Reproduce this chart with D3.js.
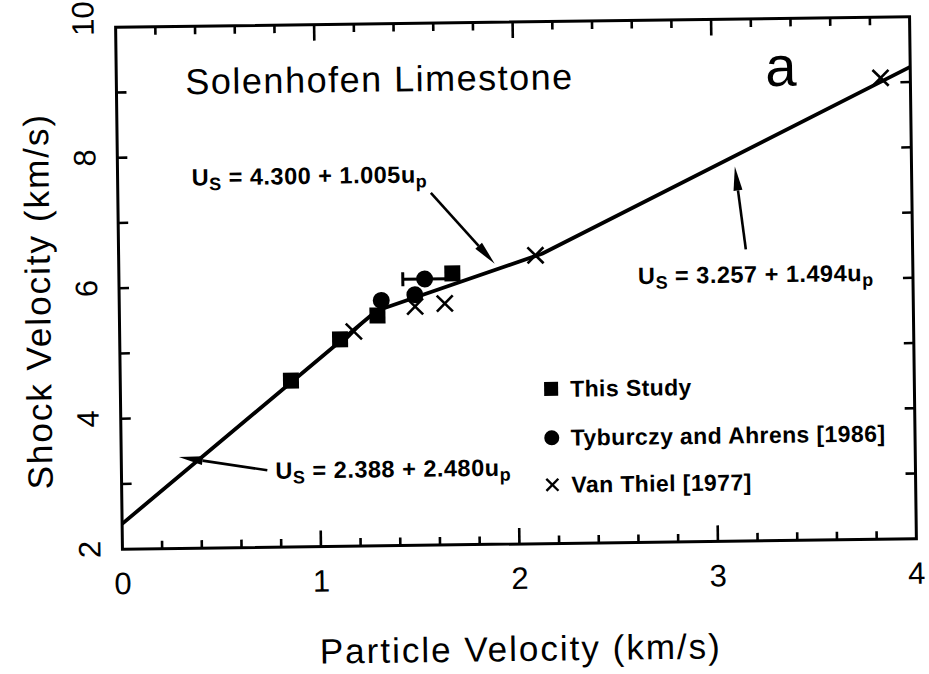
<!DOCTYPE html>
<html>
<head>
<meta charset="utf-8">
<script src="https://cdn.jsdelivr.net/npm/d3@7"></script>
<style>
  html, body { margin: 0; padding: 0; background: #fff; }
  svg { display: block; }
</style>
</head>
<body>
<svg id="chart" width="929" height="674"></svg>
<script>
// ---------------- data ----------------
const xDomain = [0, 4];
const yDomain = [2, 10];
const xTickLabels = [0, 1, 2, 3, 4];
const xMinorTicks = [0.2, 0.4, 0.6, 0.8, 1.2, 1.4, 1.6, 1.8, 2.2, 2.4, 2.6, 2.8, 3.2, 3.4, 3.6, 3.8];
const yTickLabels = [2, 4, 6, 8, 10];
const yMinorTicks = [3, 5, 7, 9];

// This Study (squares)
const thisStudyUp = [0.86, 1.11, 1.30, 1.68];
const thisStudyUs = [4.55, 5.17, 5.53, 6.16];
// Tyburczy and Ahrens [1986] (circles)
const tyburczyUp = [1.32, 1.49, 1.54];
const tyburczyUs = [5.76, 5.84, 6.08];
// horizontal error bar on one Tyburczy point
const errUp = [1.43, 1.66];
const errUs = 6.08;
// Van Thiel [1977] (crosses)
const vanThielUp = [1.18, 1.49, 1.64, 2.10, 3.85];
const vanThielUs = [5.29, 5.66, 5.70, 6.42, 9.07];

// Hugoniot fit segments: Us = a + b*up
const fitA = [2.388, 4.300, 3.257];
const fitB = [2.480, 1.005, 1.494];
const fitFrom = [0, 1.296, 2.133];
const fitTo = [1.296, 2.133, 4];

(function () {
// ---------------- layout ----------------
const svg = d3.select("#chart");
const pLeft = 119, pRight = 913, pTop = 22, pBottom = 544;
const x = d3.scaleLinear().domain(xDomain).range([pLeft, pRight]);
const y = d3.scaleLinear().domain(yDomain).range([pBottom, pTop]);

const root = svg.append("g").attr("transform", "rotate(-0.75, 516, 283)");
const FONT = "'Liberation Sans', Arial, Helvetica, sans-serif";

// frame
root.append("rect")
  .attr("x", pLeft).attr("y", pTop)
  .attr("width", pRight - pLeft).attr("height", pBottom - pTop)
  .attr("fill", "none").attr("stroke", "#000").attr("stroke-width", 3);

// ticks (inward, all four sides)
const majorLen = 16, minorLen = 8, yLen = 10;
const tk = root.append("g").attr("stroke", "#000").attr("stroke-width", 2.6);
function xTicks(vals, len) {
  vals.forEach(v => {
    tk.append("line").attr("x1", x(v)).attr("x2", x(v)).attr("y1", pBottom).attr("y2", pBottom - len);
    tk.append("line").attr("x1", x(v)).attr("x2", x(v)).attr("y1", pTop).attr("y2", pTop + len);
  });
}
function yTicks(vals, len) {
  vals.forEach(v => {
    tk.append("line").attr("y1", y(v)).attr("y2", y(v)).attr("x1", pLeft).attr("x2", pLeft + len);
    tk.append("line").attr("y1", y(v)).attr("y2", y(v)).attr("x1", pRight).attr("x2", pRight - len);
  });
}
xTicks(xTickLabels.slice(1, -1), majorLen);
xTicks(xMinorTicks, minorLen);
yTicks(yTickLabels.slice(1, -1), yLen);
yTicks(yMinorTicks, yLen);

// tick labels
root.append("g").selectAll("text").data(xTickLabels).join("text")
  .attr("x", d => x(d)).attr("y", 589)
  .attr("text-anchor", "middle")
  .attr("font-family", FONT).attr("font-size", 31)
  .text(d => d);
root.append("g").selectAll("text").data(yTickLabels).join("text")
  .attr("transform", d => `translate(97, ${y(d) - (d === 10 ? 9 : 0)}) rotate(-90)`)
  .attr("text-anchor", "middle")
  .attr("font-family", FONT).attr("font-size", 31)
  .text(d => d);

// axis titles
root.append("text")
  .attr("x", (pLeft + pRight) / 2).attr("y", 661)
  .attr("text-anchor", "middle")
  .attr("font-family", FONT).attr("font-size", 35).attr("letter-spacing", 2)
  .text("Particle Velocity (km/s)");
root.append("text")
  .attr("transform", `translate(50, ${(pTop + pBottom) / 2 + 12}) rotate(-90)`)
  .attr("text-anchor", "middle")
  .attr("font-family", FONT).attr("font-size", 35).attr("letter-spacing", 2)
  .text("Shock Velocity (km/s)");

// fit line
const fitPts = [];
fitA.forEach((a, i) => {
  fitPts.push([fitFrom[i], a + fitB[i] * fitFrom[i]]);
  fitPts.push([fitTo[i], a + fitB[i] * fitTo[i]]);
});
root.append("path")
  .attr("d", d3.line().x(d => x(d[0])).y(d => y(d[1]))(fitPts))
  .attr("fill", "none").attr("stroke", "#000").attr("stroke-width", 3.8)
  .attr("stroke-linejoin", "round");

// error bar
root.append("line")
  .attr("x1", x(errUp[0])).attr("x2", x(errUp[1]))
  .attr("y1", y(errUs)).attr("y2", y(errUs))
  .attr("stroke", "#000").attr("stroke-width", 3);
root.append("line")
  .attr("x1", x(errUp[0])).attr("x2", x(errUp[0]))
  .attr("y1", y(errUs) - 7).attr("y2", y(errUs) + 7)
  .attr("stroke", "#000").attr("stroke-width", 3);

// markers
const sq = 16, cr = 8.5, xs = 8;
root.append("g").selectAll("rect").data(thisStudyUp).join("rect")
  .attr("x", (d, i) => x(d) - sq / 2).attr("y", (d, i) => y(thisStudyUs[i]) - sq / 2)
  .attr("width", sq).attr("height", sq).attr("fill", "#000");
root.append("g").selectAll("circle").data(tyburczyUp).join("circle")
  .attr("cx", d => x(d)).attr("cy", (d, i) => y(tyburczyUs[i]))
  .attr("r", cr).attr("fill", "#000");
const xg = root.append("g").attr("stroke", "#000").attr("stroke-width", 2.6);
vanThielUp.forEach((d, i) => {
  const cx = x(d), cy = y(vanThielUs[i]);
  xg.append("line").attr("x1", cx - xs).attr("y1", cy - xs).attr("x2", cx + xs).attr("y2", cy + xs);
  xg.append("line").attr("x1", cx - xs).attr("y1", cy + xs).attr("x2", cx + xs).attr("y2", cy - xs);
});

// text annotations
root.append("text")
  .attr("x", x(0.348)).attr("y", y(8.96))
  .attr("font-family", FONT).attr("font-size", 36).attr("letter-spacing", 1.5)
  .text("Solenhofen Limestone");
root.append("text")
  .attr("x", x(3.27)).attr("y", y(8.97))
  .attr("font-family", FONT).attr("font-size", 56)
  .text("a");

// equations
const eqText = ["4.300 + 1.005", "3.257 + 1.494", "2.388 + 2.480"];
const eqUp = [0.373, 2.615, 0.776];
const eqUs = [7.56, 5.96, 3.05];
eqText.forEach((t, i) => {
  const txt = root.append("text")
    .attr("x", x(eqUp[i])).attr("y", y(eqUs[i]))
    .attr("font-family", FONT).attr("font-size", 23.5).attr("font-weight", "bold")
    .attr("letter-spacing", 0.5);
  txt.append("tspan").text("U");
  txt.append("tspan").attr("font-size", 18).attr("dy", 5).text("S");
  txt.append("tspan").attr("dy", -5).text(" = " + t + "u");
  txt.append("tspan").attr("font-size", 18).attr("dy", 5).text("p");
});

// arrows [tailUp, tailUs] -> [tipUp, tipUs]
const arrowTail = [[1.577, 7.40], [3.16, 6.47], [0.735, 3.18]];
const arrowTip = [[1.894, 6.30], [3.11, 7.74], [0.29, 3.40]];
const ag = root.append("g");
arrowTail.forEach((t, i) => {
  const x0 = x(t[0]), y0 = y(t[1]);
  const x1 = x(arrowTip[i][0]), y1 = y(arrowTip[i][1]);
  const dx = x1 - x0, dy = y1 - y0, L = Math.hypot(dx, dy);
  const ux = dx / L, uy = dy / L;
  const hl = 24, hw = 4.5;
  const bx = x1 - ux * hl, by = y1 - uy * hl;
  ag.append("line").attr("x1", x0).attr("y1", y0).attr("x2", bx).attr("y2", by)
    .attr("stroke", "#000").attr("stroke-width", 2.6);
  ag.append("path")
    .attr("d", `M${x1},${y1}L${bx - uy * hw},${by + ux * hw}L${bx + uy * hw},${by - ux * hw}Z`)
    .attr("fill", "#000");
});

// legend
const legendLabels = ["This Study", "Tyburczy and Ahrens [1986]", "Van Thiel [1977]"];
const legendUs = [4.37, 3.62, 2.90];
const lgX = x(2.17);
legendLabels.forEach((lab, i) => {
  const cy = y(legendUs[i]);
  if (i === 0) root.append("rect").attr("x", lgX - 7).attr("y", cy - 7).attr("width", 14).attr("height", 14).attr("fill", "#000");
  if (i === 1) root.append("circle").attr("cx", lgX).attr("cy", cy).attr("r", 7.5).attr("fill", "#000");
  if (i === 2) {
    root.append("line").attr("x1", lgX - 6).attr("y1", cy - 6).attr("x2", lgX + 6).attr("y2", cy + 6).attr("stroke", "#000").attr("stroke-width", 2.4);
    root.append("line").attr("x1", lgX - 6).attr("y1", cy + 6).attr("x2", lgX + 6).attr("y2", cy - 6).attr("stroke", "#000").attr("stroke-width", 2.4);
  }
  root.append("text").attr("x", lgX + 19).attr("y", cy + 8)
    .attr("font-family", FONT).attr("font-size", 23).attr("font-weight", "bold")
    .attr("letter-spacing", 0.4)
    .text(lab);
});
})();
</script>
</body>
</html>
